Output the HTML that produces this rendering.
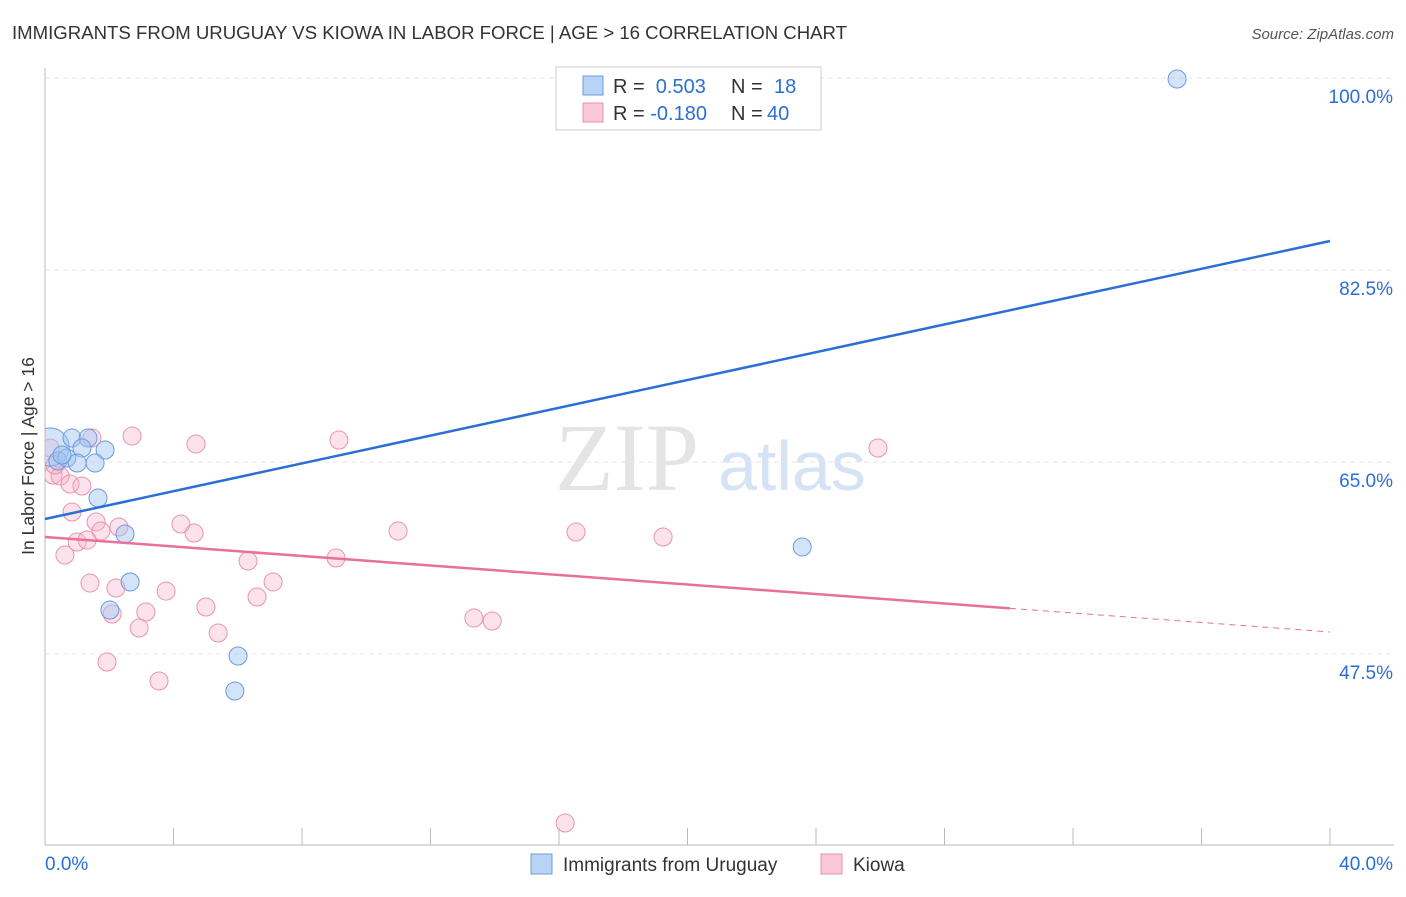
<!DOCTYPE html>
<html><head><meta charset="utf-8"><style>
body{margin:0;background:#fff;font-family:"Liberation Sans",sans-serif}
</style></head><body>
<svg width="1406" height="892" xmlns="http://www.w3.org/2000/svg" id="svg">
<text x="12" y="39" font-size="18" fill="#333" textLength="835" lengthAdjust="spacingAndGlyphs">IMMIGRANTS FROM URUGUAY VS KIOWA IN LABOR FORCE | AGE &gt; 16 CORRELATION CHART</text>
<text x="1394" y="39" font-size="15" fill="#555" font-style="italic" text-anchor="end">Source: ZipAtlas.com</text>
<text x="34" y="456" font-size="17.5" fill="#333" text-anchor="middle" transform="rotate(-90 34 456)">In Labor Force | Age &gt; 16</text>
<text x="555" y="490" font-size="96" fill="#e4e4e4" font-family="Liberation Serif,serif">ZIP</text>
<text x="718" y="490" font-size="70" fill="#d5e3f5">atlas</text>
<g id="grid"></g><g id="pts"></g><g id="lines"></g>
<g>
<rect x="556" y="67" width="265" height="63" fill="#fff" stroke="#ccc"/>
<rect x="583" y="76" width="20" height="19" fill="#b9d3f5" stroke="#6a9be0"/>
<rect x="583" y="103" width="20" height="19" fill="#f9c8d7" stroke="#e890ab"/>
<text x="613" y="93" font-size="20" fill="#333">R = <tspan fill="#2a6fd6">&#160;0.503</tspan><tspan x="731">N = </tspan><tspan x="774" fill="#2a6fd6">18</tspan></text>
<text x="613" y="120" font-size="20" fill="#333">R = <tspan fill="#2a6fd6">-0.180</tspan><tspan x="731">N = </tspan><tspan x="767" fill="#2a6fd6">40</tspan></text>
</g>
<g>
<rect x="531" y="854" width="21" height="20" fill="#b9d3f5" stroke="#6a9be0"/>
<text x="563" y="871" font-size="19" fill="#333">Immigrants from Uruguay</text>
<rect x="821" y="854" width="21" height="20" fill="#f9c8d7" stroke="#e890ab"/>
<text x="853" y="871" font-size="19" fill="#333">Kiowa</text>
</g>
</svg>
<script>
const yTicks=[100,82.5,65,47.5];
const xLabels=["0.0%","40.0%"];
const blueX=[0.16,0.84,1.34,1.15,1.87,0.40,0.68,1.00,1.56,1.65,2.49,2.65,2.02,6.01,5.91,23.57,35.24,0.53];
const blueY=[66.36,67.18,67.18,66.27,66.09,65.09,65.36,64.90,64.90,61.71,58.43,54.06,51.50,47.31,44.12,57.25,99.91,65.63];
const pinkX=[2.71,4.70,9.15,25.93,1.46,0.25,0.47,0.78,1.15,0.84,1.59,2.30,1.74,4.23,4.64,10.99,16.53,19.24,1.00,1.31,0.62,6.32,9.06,1.40,2.21,7.10,3.77,6.60,5.01,3.14,2.09,2.93,5.39,13.35,13.92,1.93,3.55,16.19,0.16,0.31];
const pinkY=[67.36,66.64,67.00,66.27,67.18,63.81,63.72,62.99,62.81,60.44,59.53,59.07,58.70,59.34,58.52,58.70,58.61,58.16,57.70,57.88,56.52,55.97,56.24,53.96,53.51,54.06,53.23,52.69,51.78,51.32,51.14,49.86,49.41,50.77,50.50,46.76,45.03,32.09,66.27,64.72];
const blueTrend=[59.80,85.14];
const pinkTrend=[58.16,49.50];
const pinkSolidEnd=30.04;
const NS="http://www.w3.org/2000/svg";
const X=v=>45+v/40*1285, Y=v=>78+(100-v)*10.97;
function mk(tag,at,parent){const e=document.createElementNS(NS,tag);for(const k in at)e.setAttribute(k,at[k]);parent.appendChild(e);return e;}
const g=document.getElementById('grid');
const ax=mk('line',{x1:45,y1:68,x2:45,y2:845,stroke:'#bbb'},g);


const bx=mk('line',{x1:45,y1:845,x2:1394,y2:845,stroke:'#bbb'},g);


for(let i=0;i<=10;i++){const t=mk('line',{x1:X(i*4),y1:828,x2:X(i*4),y2:845,stroke:'#bbb'},g);

}
yTicks.forEach(v=>{const l=mk('line',{x1:45,y1:Y(v),x2:1394,y2:Y(v),stroke:'#e6e6e6','stroke-dasharray':'5,4'},g);


const t=mk('text',{x:1393,y:Y(v)+25,'font-size':19,fill:'#2a6fd6','text-anchor':'end'},g);t.textContent=v.toFixed(1)+'%';

});
const xl0=mk('text',{x:45,y:870,'font-size':19,fill:'#2a6fd6'},g);xl0.textContent=xLabels[0];


const xl1=mk('text',{x:1393,y:870,'font-size':19,fill:'#2a6fd6','text-anchor':'end'},g);xl1.textContent=xLabels[1];


const p=document.getElementById('pts');
const clip=mk('clipPath',{id:'cp'},document.getElementById('svg'));mk('rect',{x:45,y:60,width:1360,height:785},clip);
p.setAttribute('clip-path','url(#cp)');
pinkX.forEach((v,i)=>{const c=mk('circle',{cx:X(v),cy:Y(pinkY[i]),r:9,fill:'rgba(245,175,198,0.35)',stroke:'#ea93ae','stroke-width':1},p);

});
blueX.forEach((v,i)=>{const c=mk('circle',{cx:X(v),cy:Y(blueY[i]),r:i==0?19:9,fill:'rgba(160,196,240,0.45)',stroke:'#6a9be0','stroke-width':1},p);

});
const L=document.getElementById('lines');
const bl=mk('line',{x1:X(0),y1:Y(blueTrend[0]),x2:X(40),y2:Y(blueTrend[1]),stroke:'#2a6fd6','stroke-width':2.5},L);


const py=x=>pinkTrend[0]+(pinkTrend[1]-pinkTrend[0])*x/40;
const pl=mk('line',{x1:X(0),y1:Y(pinkTrend[0]),x2:X(pinkSolidEnd),y2:Y(py(pinkSolidEnd)),stroke:'#e8709a','stroke-width':2.5},L);


const pd=mk('line',{x1:X(pinkSolidEnd),y1:Y(py(pinkSolidEnd)),x2:X(40),y2:Y(pinkTrend[1]),stroke:'#e8709a','stroke-width':1,'stroke-dasharray':'6,5'},L);


</script>
</body></html>
